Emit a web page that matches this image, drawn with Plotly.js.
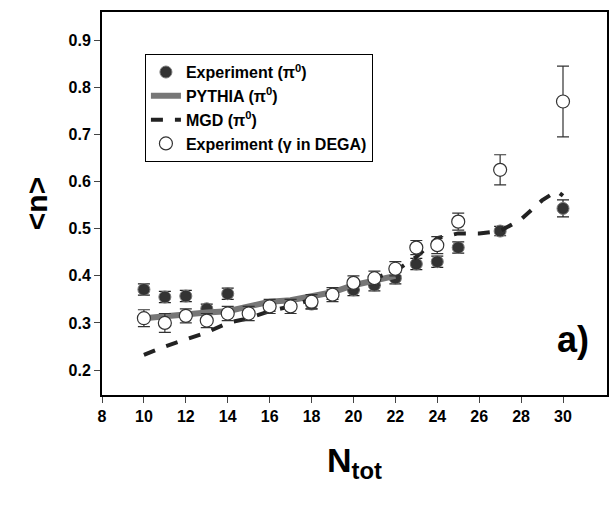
<!DOCTYPE html>
<html><head><script src="https://cdn.plot.ly/plotly-3.0.1.min.js"></script>
<style>body{margin:0}#c{width:609px;height:513px}</style></head>
<body><div id="c"></div><script>
const expX = [10, 11, 12, 13, 14, 16, 18, 19, 20, 21, 22, 23, 24, 25, 27, 30];
const expY = [0.371, 0.355, 0.357, 0.330, 0.362, 0.335, 0.340, 0.360, 0.370, 0.380, 0.395, 0.425, 0.430, 0.460, 0.495, 0.543];
const expErr = [0.012, 0.012, 0.012, 0.010, 0.012, 0.010, 0.010, 0.010, 0.012, 0.012, 0.012, 0.012, 0.012, 0.012, 0.010, 0.018];

const gamX = [10, 11, 12, 13, 14, 15, 16, 17, 18, 19, 20, 21, 22, 23, 24, 25, 27, 30];
const gamY = [0.310, 0.300, 0.315, 0.305, 0.320, 0.320, 0.335, 0.335, 0.345, 0.360, 0.385, 0.395, 0.415, 0.460, 0.465, 0.515, 0.625, 0.770];
const gamErr = [0.018, 0.020, 0.015, 0.015, 0.015, 0.015, 0.015, 0.015, 0.015, 0.015, 0.015, 0.015, 0.015, 0.015, 0.018, 0.018, 0.032, 0.075];

const pyX = [10, 11, 12, 13, 14, 15, 16, 17, 18, 19, 20, 21, 22];
const pyY = [0.310, 0.315, 0.320, 0.322, 0.325, 0.335, 0.345, 0.348, 0.355, 0.365, 0.380, 0.390, 0.400];

const mgdX = [10, 11, 12, 13, 14, 15, 16, 17, 18, 19, 20, 21, 22, 23, 24, 25, 26, 27, 28, 29, 29.7, 30];
const mgdY = [0.232, 0.250, 0.265, 0.280, 0.300, 0.310, 0.325, 0.335, 0.350, 0.365, 0.380, 0.395, 0.410, 0.440, 0.480, 0.490, 0.490, 0.495, 0.520, 0.560, 0.580, 0.570];

const data = [
  {x: expX, y: expY, name: 'Experiment (π<sup>0</sup>)', mode: 'markers', type: 'scatter',
   marker: {symbol: 'circle', size: 12, color: '#333', line: {color: '#777', width: 1}},
   error_y: {type: 'data', array: expErr, color: '#222', thickness: 1.2, width: 6}},
  {x: pyX, y: pyY, name: 'PYTHIA (π<sup>0</sup>)', mode: 'lines', type: 'scatter',
   line: {color: '#777', width: 6}},
  {x: mgdX, y: mgdY, name: 'MGD (π<sup>0</sup>)', mode: 'lines', type: 'scatter',
   line: {color: '#222', width: 4, dash: 'dash'}},
  {x: gamX, y: gamY, name: 'Experiment (γ in DEGA)', mode: 'markers', type: 'scatter',
   marker: {symbol: 'circle', size: 13, color: '#fff', line: {color: '#333', width: 1.2}},
   error_y: {type: 'data', array: gamErr, color: '#333', thickness: 1.2, width: 6}}
];

const layout = {
  width: 609, height: 513,
  margin: {l: 102, r: 2, t: 12, b: 118},
  paper_bgcolor: '#fff', plot_bgcolor: '#fff',
  font: {family: 'Liberation Sans, Arial', size: 14, color: '#000'},
  showlegend: true,
  legend: {x: 0.085, y: 0.89, xanchor: 'left', yanchor: 'top', bordercolor: '#000', borderwidth: 1,
           font: {size: 16, weight: 'bold'}, tracegroupgap: 0, bgcolor: '#fff'},
  xaxis: {range: [8, 32.1], tickvals: [8, 10, 12, 14, 16, 18, 20, 22, 24, 26, 28, 30],
          showgrid: false, zeroline: false, showline: true, linecolor: '#000', linewidth: 2, mirror: true,
          ticks: 'outside', ticklen: 6, tickfont: {size: 16, weight: 'bold'},
          title: {text: 'N<sub>tot</sub>', font: {size: 34, weight: 'bold'}, standoff: 24}},
  yaxis: {range: [0.147, 0.96], tickvals: [0.2, 0.3, 0.4, 0.5, 0.6, 0.7, 0.8, 0.9], tickformat: '.1f',
          showgrid: false, zeroline: false, showline: true, linecolor: '#000', linewidth: 2, mirror: true,
          ticks: 'outside', ticklen: 6, tickfont: {size: 16, weight: 'bold'},
          title: {text: '<n>', font: {size: 30, weight: 'bold'}, standoff: 12}},
  annotations: [{x: 30.5, y: 0.265, xref: 'x', yref: 'y', text: 'a)', showarrow: false,
                 font: {size: 36, weight: 'bold'}}]
};
Plotly.newPlot('c', data, layout, {displayModeBar: false});
</script></body></html>
